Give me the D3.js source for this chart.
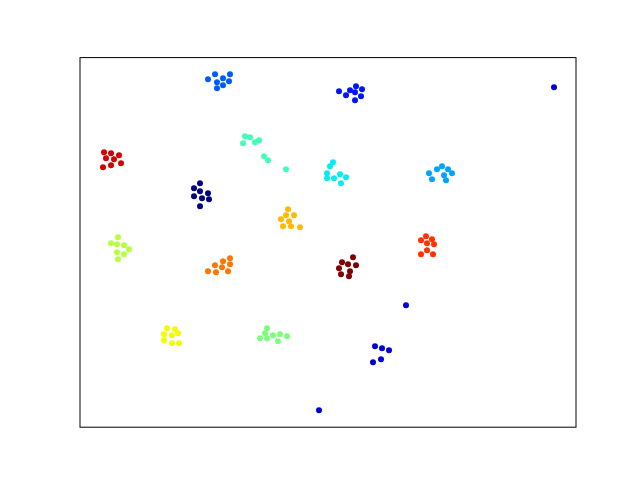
<!DOCTYPE html>
<html>
<head>
<meta charset="utf-8">
<script src="https://cdn.jsdelivr.net/npm/d3@7"></script>
<style>
  body { margin: 0; background: #fff; }
</style>
</head>
<body>
<div id="container"></div>
<script>
/* DATA: 15 clusters, 8 points each (label = cluster id) */
const labels = d3.range(15).flatMap(k => d3.range(8).map(() => k));

const xs = [
  119,113,119,113,121,127,128,119,
  294,301,308,300,292,325,238,473,
  258,265,269,275,274,281,280,274,
  127,134,142,149,136,148,142,136,
  348,356,361,367,371,363,351,365,
  252,249,246,246,253,259,265,260,
  164,169,162,174,178,183,187,205,
  186,184,179,186,192,199,206,197,
  37,30,36,43,48,36,43,37,
  86,94,83,91,97,83,91,98,
  207,205,213,200,208,202,210,219,
  127,134,142,149,149,141,135,147,
  345,340,351,346,353,346,340,352,
  23,30,38,25,33,40,30,22,
  272,261,267,275,258,269,260,268
];

const ys = [
  244,239,236,231,229,234,228,221,
  81,79,77,68,65,122,17,340,
  336,332,337,341,335,338,331,327,
  348,353,349,353,345,346,342,339,
  254,258,261,258,254,252,248,247,
  265,261,254,249,249,253,250,244,
  291,290,284,285,287,271,267,258,
  99,94,89,89,92,93,91,86,
  190,184,183,182,178,175,173,168,
  99,98,93,92,94,87,84,84,
  218,212,212,208,206,201,201,200,
  156,162,166,169,163,160,155,156,
  191,187,188,184,183,177,173,173,
  275,274,272,269,268,264,262,260,
  170,165,163,162,159,156,153,151
];

const data = xs.map((x, i) => ({x: x, y: ys[i], label: labels[i]}));

/* CONSTANTS */
const W = 640, H = 480;
const margin = {top: 57.6, right: 64, bottom: 52.8, left: 80};
const width = W - margin.left - margin.right,
      height = H - margin.top - margin.bottom;

// jet colormap built from linear scales
const jr = d3.scaleLinear().domain([0, 0.35, 0.66, 0.89, 1]).range([0, 0, 1, 1, 0.5]).clamp(true);
const jg = d3.scaleLinear().domain([0, 0.125, 0.375, 0.64, 0.91, 1]).range([0, 0, 1, 1, 0, 0]).clamp(true);
const jb = d3.scaleLinear().domain([0, 0.11, 0.34, 0.65, 1]).range([0.5, 1, 1, 0, 0]).clamp(true);
const norm = d3.scaleLinear().domain(d3.extent(labels)).range([0, 1]);
const jet = v => {
  const t = norm(v);
  return d3.rgb(jr(t) * 255, jg(t) * 255, jb(t) * 255).toString();
};

const svg = d3.select("#container")
  .append("svg")
  .attr("width", W)
  .attr("height", H)
  .append("g")
  .attr("transform", `translate(${margin.left},${margin.top})`);

// SCALES
const xScale = d3.scaleLinear().domain([-1, 495]).range([0, width]);
const yScale = d3.scaleLinear().domain([0, 369.6]).range([height, 0]);

// POINTS
svg.selectAll("circle.dot")
  .data(data)
  .join("circle")
  .attr("class", "dot")
  .attr("cx", d => xScale(d.x))
  .attr("cy", d => yScale(d.y))
  .attr("r", 3)
  .attr("fill", d => jet(d.label));

// FRAME (no ticks)
svg.append("rect")
  .attr("x", 0)
  .attr("y", 0)
  .attr("width", width)
  .attr("height", height)
  .attr("fill", "none")
  .attr("stroke", "black")
  .attr("stroke-width", 1);
</script>
</body>
</html>
